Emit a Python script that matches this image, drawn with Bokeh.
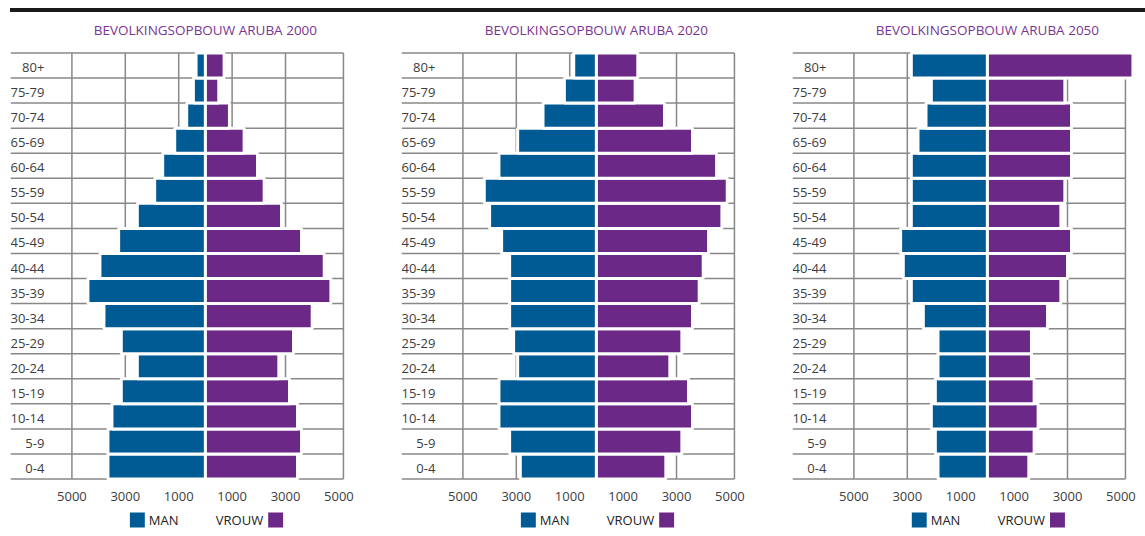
import numpy as np
from bokeh.plotting import figure
from bokeh.models import Range1d, FixedTicker, Div, ColumnDataSource
from bokeh.layouts import row, column
from bokeh.embed import file_html
from bokeh.resources import INLINE
from bokeh.core.properties import value

# ---------------- data (bottom -> top) ----------------
ages = ["0-4", "5-9", "10-14", "15-19", "20-24", "25-29", "30-34", "35-39",
        "40-44", "45-49", "50-54", "55-59", "60-64", "65-69", "70-74", "75-79", "80+"]
years = ["2000", "2020", "2050"]

man_2000 = [3650, 3650, 3500, 3150, 2550, 3150, 3800, 4400, 3950, 3250, 2550, 1900, 1600, 1150, 700, 450, 350]
vrouw_2000 = [3450, 3600, 3450, 3150, 2750, 3300, 4000, 4700, 4450, 3600, 2850, 2200, 1950, 1450, 900, 500, 700]

man_2020 = [2850, 3250, 3650, 3650, 2950, 3100, 3250, 3250, 3250, 3550, 4000, 4200, 3650, 2950, 2000, 1200, 850]
vrouw_2020 = [2600, 3200, 3600, 3450, 2750, 3200, 3600, 3850, 4000, 4200, 4700, 4900, 4500, 3600, 2550, 1450, 1550]

man_2050 = [1850, 1950, 2100, 1950, 1850, 1850, 2400, 2850, 3150, 3250, 2850, 2850, 2850, 2600, 2300, 2100, 2850]
vrouw_2050 = [1550, 1750, 1900, 1750, 1650, 1650, 2250, 2750, 3000, 3150, 2750, 2900, 3150, 3150, 3150, 2900, 5450]

tick_values = [-5000, -3000, -1000, 1000, 3000, 5000]
tick_labels = ["5000", "3000", "1000", "1000", "3000", "5000"]
legend_labels = ["MAN", "VROUW"]
title_prefix = "BEVOLKINGSOPBOUW ARUBA"

# ---------------- style ----------------
BLUE = "#005a94"
PURPLE = "#6b2886"
TITLE_COLOR = "#7a3492"
GRID = "#888888"
TEXT = "#3d3d3d"
FONT = "Open Sans"

PX_PER_UNIT = 0.0267
X_START = -7300
BORDER_X = 5170
LABEL_X = -6030


def make_panel(year, men, women, width):
    frame_w = width - 2
    x_end = X_START + frame_w / PX_PER_UNIT
    xr = Range1d(X_START, x_end)
    n = len(ages)

    # title strip
    t = figure(width=width, height=38, x_range=xr, y_range=Range1d(0, 38),
               output_backend="svg", toolbar_location=None,
               x_axis_location=None, y_axis_location=None,
               min_border_left=2, min_border_right=0, min_border_top=0, min_border_bottom=0)
    t.outline_line_color = None
    t.grid.visible = False
    t.text(x=0, y=21, text=[f"{title_prefix} {year}"], text_align="center",
           text_baseline="middle", text_font=value(FONT), text_font_size="13.5px",
           text_color=TITLE_COLOR)

    p = figure(width=width, height=457, x_range=xr,
               y_range=Range1d(-0.6, n - 0.4),
               output_backend="svg", toolbar_location=None,
               y_axis_location=None, min_border_left=2, min_border_right=0,
               min_border_top=0, min_border_bottom=26)
    p.outline_line_color = None
    p.grid.visible = False

    idx = list(range(n))
    bounds = [i - 0.5 for i in range(n + 1)]
    vlines = [v for v in tick_values if v != 5000] + [BORDER_X]

    # grid
    p.segment(x0=X_START, x1=BORDER_X, y0=bounds, y1=bounds, line_color=GRID, line_width=1.5)
    p.segment(x0=vlines, x1=vlines, y0=-0.5, y1=n - 0.5, line_color=GRID, line_width=1.5)

    # bars
    src = ColumnDataSource(dict(y=idx, men_left=[-m for m in men], women_right=women))
    p.hbar(y="y", left="men_left", right=0, height=1, source=src,
           fill_color=BLUE, line_color="white", line_width=3)
    p.hbar(y="y", left=0, right="women_right", height=1, source=src,
           fill_color=PURPLE, line_color="white", line_width=3)

    # age labels
    p.text(x=LABEL_X, y=idx, text=ages, text_align="right", text_baseline="middle",
           y_offset=2, text_font=value(FONT), text_font_size="13px", text_color=TEXT)

    ax = p.xaxis[0]
    ax.ticker = FixedTicker(ticks=tick_values)
    ax.major_label_overrides = {v: l for v, l in zip(tick_values, tick_labels)}
    ax.axis_line_color = None
    ax.major_tick_line_color = None
    ax.minor_tick_line_color = None
    ax.major_label_standoff = 4
    ax.major_label_text_font = FONT
    ax.major_label_text_font_size = "13px"
    ax.major_label_text_color = TEXT

    lg = figure(width=width, height=21, x_range=Range1d(0, width), y_range=Range1d(0, 21),
                output_backend="svg", toolbar_location=None,
                x_axis_location=None, y_axis_location=None, min_border=0)
    lg.outline_line_color = None
    lg.grid.visible = False
    lg.rect(x=[127.5, 266.5], y=8.5, width=15, height=15,
            fill_color=[BLUE, PURPLE], line_color=None)
    lg.text(x=139, y=8.5, text=[legend_labels[0]], text_align="left", text_baseline="middle",
            text_font=value(FONT), text_font_size="13px", text_color="#222222")
    lg.text(x=254, y=8.5, text=[legend_labels[1]], text_align="right", text_baseline="middle",
            text_font=value(FONT), text_font_size="13px", text_color="#222222")
    return column(t, p, lg, spacing=0)


panels = [
    make_panel(years[0], man_2000, vrouw_2000, 391),
    make_panel(years[1], man_2020, vrouw_2020, 391),
    make_panel(years[2], man_2050, vrouw_2050, 347),
]

top_line = Div(text="", width=1135, height=4, margin=(0, 0, 0, 2),
               styles={"background-color": "#1a1a1a"})

layout = column(top_line, row(*panels, spacing=0), spacing=0, margin=(8, 0, 0, 8))

open("out.html", "w").write(file_html(layout, INLINE))
